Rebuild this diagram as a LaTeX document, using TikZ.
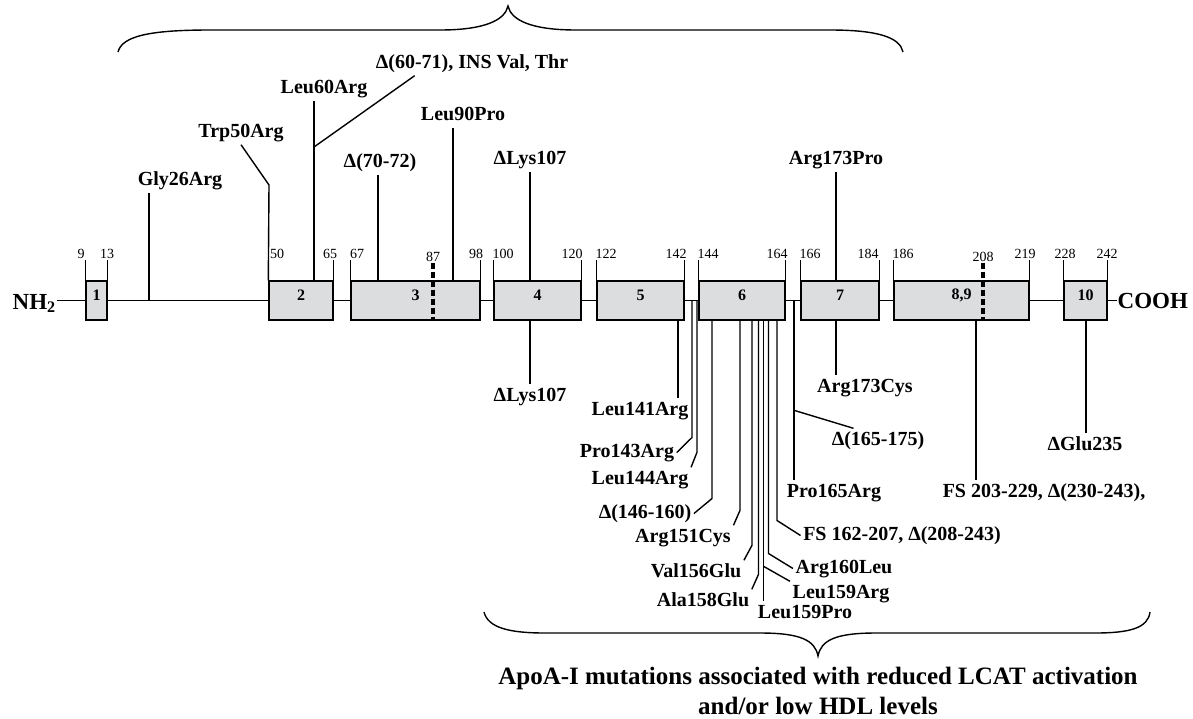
\documentclass[tikz,border=0pt]{standalone}
\usepackage{fontspec}
\setmainfont{Liberation Serif}
\usepackage{tikz}
\usetikzlibrary{calc,fit,backgrounds}
\definecolor{exongrey}{HTML}{DCDDDF}

\begin{document}
\begin{tikzpicture}[
  x=0.5pt,y=-0.5pt,line width=0.7pt,
  exon/.style={draw,fill=exongrey,inner sep=0pt,
               font=\bfseries\fontsize{8}{9}\selectfont},
  resno/.style={anchor=base,inner sep=0.5pt,text depth=0pt,
                font=\fontsize{7}{8}\selectfont},
  mut/.style={anchor=base,inner sep=1pt,text height=7pt,text depth=2.5pt,
              font=\bfseries\fontsize{10}{12}\selectfont},
  cut/.style={line width=1.6pt,dash pattern=on 3pt off 1.5pt},
  term/.style={anchor=base west,inner sep=0pt,font=\bfseries\fontsize{11.5}{14}\selectfont},
  caption/.style={anchor=north,inner sep=0pt,align=center,
                  font=\bfseries\fontsize{12.5}{15}\selectfont},
]
\useasboundingbox (0,0) rectangle (1193,718);

\node[term] (nh2)  at (12,309)   {NH\textsubscript{2}};
\node[term] (cooh) at (1117,308) {COOH};

\node[exon,fit={(86,281) (107,320)}]   (e1)  {1};
\node[exon,fit={(269,281) (333,320)}]  (e2)  {2};
\node[exon,fit={(351,281) (480,320)}]  (e3)  {3};
\node[exon,fit={(494,281) (581,320)}]  (e4)  {4};
\node[exon,fit={(597,281) (684,320)}]  (e5)  {5};
\node[exon,fit={(699,281) (785,320)}]  (e6)  {6};
\node[exon,fit={(801,281) (879,320)}]  (e7)  {7};
\node[exon,fit={(894,281) (1029,320)}] (e89) {8,9};
\node[exon,fit={(1064,281) (1107,320)}] (e10) {10};

\begin{scope}[on background layer]
\draw (nh2.east |- e1.west) -- (cooh.west |- e10.east);
\end{scope}

\node[resno] (n9)   at (81,258.5)   {9};
\node[resno] (n13)  at (107,258.5)  {13};
\node[resno] (n50)  at (277,258.5)  {50};
\node[resno] (n65)  at (330,258.5)  {65};
\node[resno] (n67)  at (357,258.5)  {67};
\node[resno] (n87)  at (433,261)    {87};
\node[resno] (n98)  at (476,258.5)  {98};
\node[resno] (n100) at (503,258.5)  {100};
\node[resno] (n120) at (572,258.5)  {120};
\node[resno] (n122) at (606,258.5)  {122};
\node[resno] (n142) at (676,258.5)  {142};
\node[resno] (n144) at (708,258.5)  {144};
\node[resno] (n164) at (777,258.5)  {164};
\node[resno] (n166) at (810,258.5)  {166};
\node[resno] (n184) at (868,258.5)  {184};
\node[resno] (n186) at (903,258.5)  {186};
\node[resno] (n208) at (983,261)    {208};
\node[resno] (n219) at (1025,258.5) {219};
\node[resno] (n228) at (1065,258.5) {228};
\node[resno] (n242) at (1107,258.5) {242};

\draw (e1.north west) -- (e1.north west |- n9.south);
\draw (e1.north east) -- (e1.north east |- n13.south);
\draw (e2.north east) -- (e2.north east |- n65.south);
\draw (e3.north west) -- (e3.north west |- n67.south);
\draw (e3.north east) -- (e3.north east |- n98.south);
\draw (e4.north west) -- (e4.north west |- n100.south);
\draw (e4.north east) -- (e4.north east |- n120.south);
\draw (e5.north west) -- (e5.north west |- n122.south);
\draw (e5.north east) -- (e5.north east |- n142.south);
\draw (e6.north west) -- (e6.north west |- n144.south);
\draw (e6.north east) -- (e6.north east |- n164.south);
\draw (e7.north west) -- (e7.north west |- n166.south);
\draw (e7.north east) -- (e7.north east |- n184.south);
\draw (e89.north west) -- (e89.north west |- n186.south);
\draw (e89.north east) -- (e89.north east |- n219.south);
\draw (e10.north west) -- (e10.north west |- n228.south);
\draw (e10.north east) -- (e10.north east |- n242.south);
\draw[cut] (n87.south) -- (n87.south |- e3.south);
\draw[cut] (n208.south) -- (n208.south |- e89.south);

\coordinate (r26)   at (149,300.5);
\coordinate (k50)   at (269,185);
\coordinate (r60)   at (314,281);
\coordinate (j60)   at (314,147);
\coordinate (r70)   at (378,281);
\coordinate (r90)   at (453,281);
\coordinate (r107)  at (530,281);
\coordinate (r107b) at (530,320);
\coordinate (r141)  at (678,320);
\coordinate (r143)  at (692,300.5);
\coordinate (r144)  at (697,300.5);
\coordinate (r146)  at (712,320);
\coordinate (r151)  at (740,320);
\coordinate (r156)  at (752,320);
\coordinate (r158)  at (758.5,320);
\coordinate (r159)  at (763.5,320);
\coordinate (r160)  at (768.5,320);
\coordinate (r162)  at (777,320);
\coordinate (r165)  at (794,300.5);
\coordinate (r173)  at (836,281);
\coordinate (r173b) at (836,320);
\coordinate (r203)  at (976,320);
\coordinate (r235)  at (1086,320);

\node[mut] (gly26)   at (180,185)  {Gly26Arg};
\node[mut] (trp50)   at (241,137)  {Trp50Arg};
\node[mut] (leu60)   at (324,93)   {Leu60Arg};
\node[mut] (del60)   at (472,68)   {Δ(60-71), INS Val, Thr};
\node[mut] (del70)   at (380,167)  {Δ(70-72)};
\node[mut] (leu90)   at (463,120)  {Leu90Pro};
\node[mut] (lys107a) at (530,164)  {ΔLys107};
\node[mut] (arg173p) at (836,164)  {Arg173Pro};

\node[mut] (lys107b) at (530,401)  {ΔLys107};
\node[mut] (arg173c) at (865,392)  {Arg173Cys};
\node[mut] (fs203)   at (1044,497) {FS 203-229, Δ(230-243),};
\node[mut] (glu235)  at (1085,450) {ΔGlu235};
\node[mut] (leu141)  at (640,415)  {Leu141Arg};
\node[mut] (pro143)  at (627,457)  {Pro143Arg};
\node[mut] (leu144)  at (640,484)  {Leu144Arg};
\node[mut] (del146)  at (645,518)  {Δ(146-160)};
\node[mut] (arg151)  at (683,542)  {Arg151Cys};
\node[mut] (val156)  at (696,577)  {Val156Glu};
\node[mut] (ala158)  at (703,606)  {Ala158Glu};
\node[mut] (leu159p) at (805,618)  {Leu159Pro};
\node[mut] (leu159a) at (841,598)  {Leu159Arg};
\node[mut] (arg160)  at (844,573)  {Arg160Leu};
\node[mut] (fs162)   at (902,540)  {FS 162-207, Δ(208-243)};
\node[mut] (pro165)  at (834,497)  {Pro165Arg};
\node[mut] (del165)  at (878,445)  {Δ(165-175)};

\draw (r26) -- (r26 |- gly26.south);
\draw (e2.north west) -- (k50) -- (trp50.south);
\draw (r60) -- (r60 |- leu60.south);
\draw (j60) -- ($(del60.south west)!.21!(del60.south east)$);
\draw (r70) -- (r70 |- del70.south);
\draw (r90) -- (r90 |- leu90.south);
\draw (r107) -- (r107 |- lys107a.south);
\draw (r173) -- (r173 |- arg173p.south);

\draw (r107b) -- (r107b |- lys107b.north);
\draw (r173b) -- (r173b |- arg173c.north);
\draw (r203) -- (r203 |- fs203.north);
\draw (r235) -- (r235 |- glu235.north);
\draw (r141) -- (r141 |- leu141.north);
\draw (r143) -- ([yshift=7.5pt]r143 |- pro143.east) -- (pro143.east);
\draw (r144) -- ([yshift=7.5pt]r144 |- leu144.north east) -- (leu144.north east);
\draw (r146) -- ([yshift=7.5pt]r146 |- del146.east) -- (del146.east);
\draw (r151) -- ([yshift=7.5pt]r151 |- arg151.north east) -- (arg151.north east);
\draw (r156) -- ([yshift=7.5pt]r156 |- val156.north east) -- (val156.north east);
\draw (r158) -- ([yshift=7.5pt]r158 |- ala158.north east) -- (ala158.north east);
\draw (r159) -- (r159 |- leu159p.north);
\draw ([yshift=7.5pt]r159 |- leu159a.north west) -- (leu159a.north west);
\draw (r160) -- ([yshift=7.5pt]r160 |- arg160.west) -- (arg160.west);
\draw (r162) -- ([yshift=7.5pt]r162 |- fs162.west) -- (fs162.west);
\draw (r165) -- (r165 |- pro165.north);
\draw ([yshift=9pt]r165 |- del165.north) -- ($(del165.north west)!.25!(del165.north east)$);

\draw (118,52) .. controls (122,36) and (150,30) .. (210,30) -- (440,30)
  .. controls (485,30) and (505,20) .. (508,6)
  .. controls (511,20) and (531,30) .. (576,30) -- (830,30)
  .. controls (880,30) and (900,38) .. (903,52);
\draw (484,612) .. controls (488,628) and (510,633) .. (545,633) -- (760,633)
  .. controls (800,633) and (815,640) .. (818,656)
  .. controls (821,640) and (836,633) .. (876,633) -- (1095,633)
  .. controls (1130,633) and (1148,628) .. (1150,612);

\node[caption] (lcat) at (818,666)
  {ApoA-I mutations associated with reduced LCAT activation\\and/or low HDL levels};
\end{tikzpicture}
\end{document}
